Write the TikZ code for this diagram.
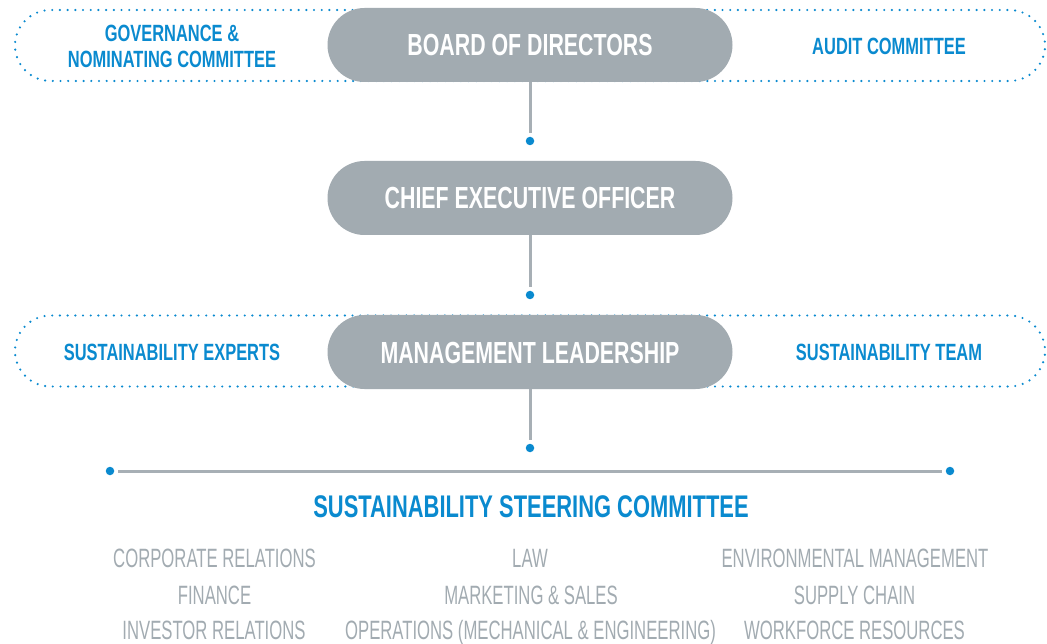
\documentclass[tikz,border=0pt]{standalone}
\usepackage{fontspec}
\setmainfont{Liberation Sans}
\newfontfamily\condbold[FakeStretch=0.70]{Liberation Sans}
\newfontfamily\condreg[FakeStretch=0.63]{Liberation Sans}
\usetikzlibrary{shapes.misc}
\definecolor{pillgray}{HTML}{A2ABB1}
\definecolor{linegray}{HTML}{A7AFB5}
\definecolor{textgray}{HTML}{A2ABB1}
\definecolor{accent}{HTML}{0A8ACF}
\begin{document}
\begin{tikzpicture}[x=1pt,y=-1pt,
  pill/.style={rounded rectangle, fill=pillgray, minimum width=405pt, minimum height=74pt,
    inner sep=0pt, text=white, text height=22pt, text depth=0pt,
    font=\condbold\bfseries\fontsize{30.5}{32}\selectfont},
  group/.style={rounded rectangle, draw=accent, line width=2.4pt, dash pattern=on 0pt off 7.7pt,
    line cap=round, minimum width=1030pt, minimum height=71pt, inner sep=0pt},
  side/.style={text=accent, align=center, inner sep=0pt,
    font=\condbold\bfseries\fontsize{23.5}{26}\selectfont},
  dot/.style={circle, fill=accent, minimum size=8.5pt, inner sep=0pt},
  link/.style={draw=linegray, line width=3pt},
  title/.style={text=accent, anchor=base, inner sep=0pt,
    font=\condbold\bfseries\fontsize{31.3}{33}\selectfont},
  member/.style={text=textgray, anchor=base, inner sep=0pt,
    font=\condreg\fontsize{26.5}{28}\selectfont}]
\useasboundingbox (0,0) rectangle (1047,644);

% top group
\node[group] (topgroup) at (530,45.5) {};
\node[pill] (bod) at (530,45) {BOARD OF DIRECTORS};
\node[side] (gov) at (172,46.5) {GOVERNANCE \&\\NOMINATING COMMITTEE};
\node[side, text height=17pt, text depth=0pt] (audit) at (889,46.5) {AUDIT COMMITTEE};

\node[dot] (d1) at (530,141) {};
\draw[link, shorten >=4pt] (bod.south) -- (d1.north);

% CEO
\node[pill] (ceo) at (530,198) {CHIEF EXECUTIVE OFFICER};
\node[dot] (d2) at (530,295) {};
\draw[link, shorten >=4pt] (ceo.south) -- (d2.north);

% management group
\node[group] (midgroup) at (530,351) {};
\node[pill] (mgmt) at (530,352) {MANAGEMENT LEADERSHIP};
\node[side, text height=17pt, text depth=0pt] (experts) at (172,351.5) {SUSTAINABILITY EXPERTS};
\node[side, text height=17pt, text depth=0pt] (team) at (889,351.5) {SUSTAINABILITY TEAM};

\node[dot] (d3) at (530,448) {};
\draw[link, shorten >=4pt] (mgmt.south) -- (d3.north);

% steering committee bar
\node[dot] (dl) at (110,471) {};
\node[dot] (dr) at (950,471) {};
\draw[link, shorten <=4pt, shorten >=4pt] (dl.east) -- (dr.west);

\node[title] (ssc) at (531,517) {SUSTAINABILITY STEERING COMMITTEE};

\node[member] (m1) at (214.5,567) {CORPORATE RELATIONS};
\node[member] (m2) at (530,567) {LAW};
\node[member] (m3) at (855,567) {ENVIRONMENTAL MANAGEMENT};
\node[member] (m4) at (214.5,604) {FINANCE};
\node[member] (m5) at (531,604) {MARKETING \& SALES};
\node[member] (m6) at (854.5,604) {SUPPLY CHAIN};
\node[member] (m7) at (214,639.5) {INVESTOR RELATIONS};
\node[member] (m8) at (530.5,639.5) {OPERATIONS (MECHANICAL \& ENGINEERING)};
\node[member] (m9) at (854.5,639.5) {WORKFORCE RESOURCES};
\end{tikzpicture}
\end{document}
